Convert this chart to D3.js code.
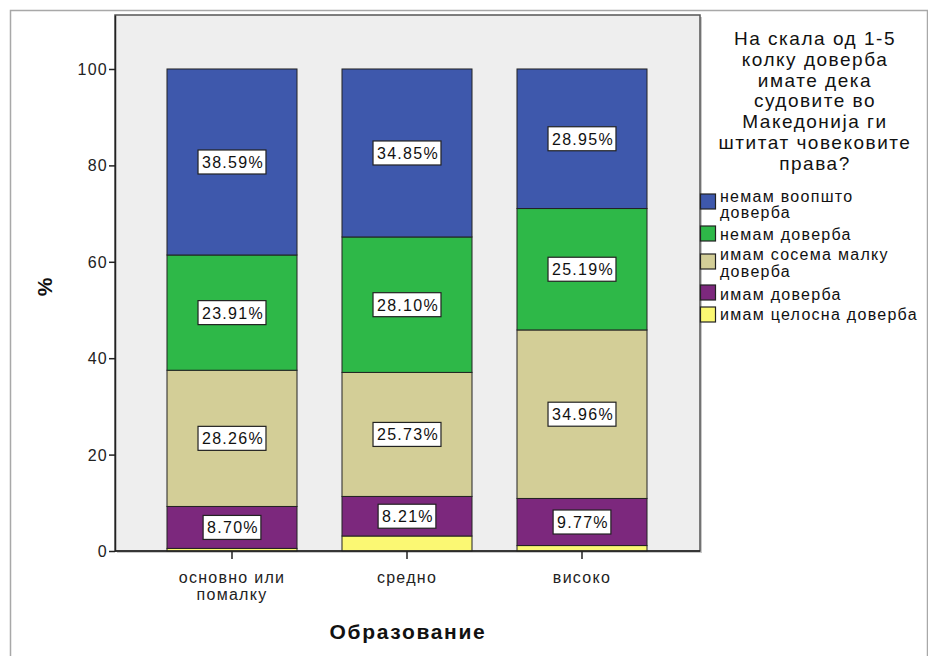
<!DOCTYPE html>
<html><head><meta charset="utf-8">
<script src="https://cdn.jsdelivr.net/npm/d3@7"></script>
<style>body{margin:0;background:#fff;} text{font-family:Arial,"Liberation Sans",sans-serif;letter-spacing:0.08em;}</style>
</head><body>
<svg id="c" width="928" height="656"></svg>
<script>
const categories = ["основно или\nпомалку", "средно", "високо"];
const seriesNames = ["имам целосна доверба","имам доверба","имам сосема малку доверба","немам доверба","немам воопшто доверба"];
const legendLabels = [["немам воопшто","доверба"],["немам доверба"],["имам сосема малку","доверба"],["имам доверба"],["имам целосна доверба"]];
const yellowVals = [0.54, 3.11, 1.13];
const purpleVals = [8.70, 8.21, 9.77];
const tanVals = [28.26, 25.73, 34.96];
const greenVals = [23.91, 28.10, 25.19];
const blueVals = [38.59, 34.85, 28.95];
const colors = ["#FBF873","#7C287D","#D3CE97","#2EB848","#3E58AC"];
const yTicks = [0,20,40,60,80,100];
const titleLines = ["На скала од 1-5","колку доверба","имате дека","судовите во","Македонија ги","штитат човековите","права?"];

const svg = d3.select("#c");
// outer frame
svg.append("rect").attr("x",10.5).attr("y",10.5).attr("width",917).attr("height",660)
  .attr("fill","none").attr("stroke","#a8a8a8").attr("stroke-width",1.5);

const L=115, R=700, T=15, B=551;
svg.append("rect").attr("x",L+2).attr("y",T+2).attr("width",R-L).attr("height",B-T).attr("fill","#c8c8c8");
svg.append("rect").attr("x",L).attr("y",T).attr("width",R-L).attr("height",B-T).attr("fill","#eeeeee")
  .attr("stroke","#555").attr("stroke-width",1.5);

const y = d3.scaleLinear().domain([0,111.2]).range([B,T]);
const x = d3.scaleBand().domain(categories).range([144.5,669.5]).paddingInner(0.2571).paddingOuter(0.12855);

const vals = [yellowVals,purpleVals,tanVals,greenVals,blueVals];
const data = categories.map((c,i)=>{const o={cat:c}; seriesNames.forEach((s,j)=>o[s]=vals[j][i]); return o;});
const stack = d3.stack().keys(seriesNames)(data);

const g = svg.append("g");
stack.forEach((layer,j)=>{
  g.selectAll(null).data(layer).enter().append("rect")
    .attr("x",d=>x(d.data.cat)).attr("width",x.bandwidth())
    .attr("y",d=>y(d[1])).attr("height",d=>y(d[0])-y(d[1]))
    .attr("fill",colors[j]).attr("stroke","#222").attr("stroke-width",1);
});
// labels
stack.forEach((layer,j)=>{
  if(j===0) return;
  layer.forEach(d=>{
    const cx = x(d.data.cat)+x.bandwidth()/2, cy=(y(d[0])+y(d[1]))/2;
    const t = d3.format(".2f")(d[1]-d[0])+"%";
    const lg = svg.append("g");
    const txt = lg.append("text").attr("x",cx+1).attr("y",cy+6).attr("text-anchor","middle")
      .attr("font-size",16).attr("fill","#111").text(t);
    const w = txt.node().getComputedTextLength();
    lg.insert("rect","text").attr("x",cx-w/2-3).attr("y",cy-12).attr("width",w+6).attr("height",24)
      .attr("fill","#fff").attr("stroke","#222").attr("stroke-width",1.2);
  });
});

// y axis
const ya = svg.append("g").attr("transform",`translate(${L},0)`)
  .call(d3.axisLeft(y).tickValues(yTicks).tickSize(6).tickSizeOuter(0));
ya.select(".domain").attr("stroke","#222").attr("stroke-width",1.5);
ya.selectAll(".tick line").attr("stroke","#222").attr("stroke-width",1.5);
ya.selectAll(".tick text").attr("font-size",16).attr("fill","#222").attr("font-family","Arial,'Liberation Sans',sans-serif").attr("x",-7).attr("dy","0.35em");

// x axis
const xa = svg.append("g").attr("transform",`translate(0,${B})`)
  .call(d3.axisBottom(x).tickSize(8).tickSizeOuter(0));
xa.select(".domain").attr("d",`M${L},0H${R}`).attr("stroke","#222").attr("stroke-width",1.5);
xa.selectAll(".tick line").attr("stroke","#222").attr("stroke-width",1.5);
xa.selectAll(".tick text").each(function(d){
  const el=d3.select(this); el.text(null);
  d.split("\n").forEach((ln,i)=>el.append("tspan").attr("x",0).attr("dy",i?17:0).text(ln));
}).attr("y",32).attr("dy",null).attr("font-size",16).attr("fill","#222").attr("font-family","Arial,'Liberation Sans',sans-serif");

// axis titles
svg.append("text").attr("transform","translate(52,286) rotate(-90)").attr("text-anchor","middle")
  .attr("font-size",21).attr("font-weight","bold").attr("fill","#111").text("%");
svg.append("text").attr("x",408).attr("y",639).attr("text-anchor","middle")
  .attr("font-size",21).attr("font-weight","bold").attr("fill","#111").text("Образование");

// legend title
titleLines.forEach((t,i)=>svg.append("text").attr("x",815).attr("y",45+i*20.8).attr("text-anchor","middle")
  .attr("font-size",19).attr("fill","#111").text(t));

// legend
const legY=[194,226,254,285,307];
const legText=[[202,218],[240],[260,277],[300],[320]];
const legColors = colors.slice().reverse();
legendLabels.forEach((lines,i)=>{
  svg.append("rect").attr("x",700.5).attr("y",legY[i]).attr("width",15).attr("height",15)
    .attr("fill",legColors[i]).attr("stroke","#222").attr("stroke-width",1.2);
  lines.forEach((ln,k)=>svg.append("text").attr("x",720).attr("y",legText[i][k])
    .attr("font-size",16).attr("fill","#111").text(ln));
});
</script>
</body></html>
